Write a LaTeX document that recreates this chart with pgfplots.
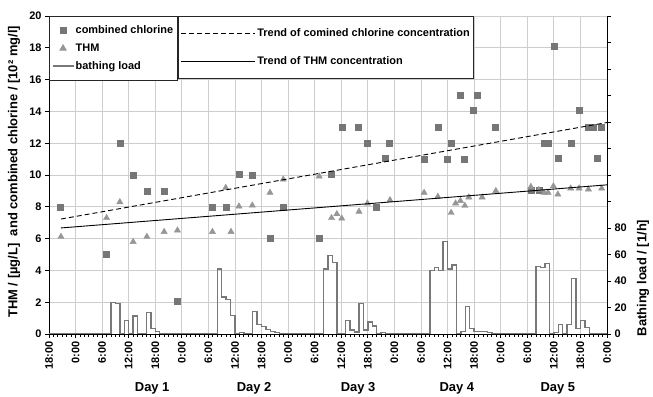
\documentclass[border=0pt]{standalone}
\usepackage{pgfplots}
\pgfplotsset{compat=1.18}
\usepackage{fontspec}
\setmainfont{Liberation Sans}
\definecolor{sq}{RGB}{118,118,118}
\definecolor{tri}{RGB}{150,150,150}
\definecolor{bath}{RGB}{120,120,120}
\definecolor{gridc}{RGB}{205,205,205}
\begin{document}
\begin{tikzpicture}
\pgfplotsset{
  every axis/.append style={font=\bfseries\fontsize{11}{13}\selectfont},
  /pgf/number format/assume math mode=true,
  base/.style={at={(0,0)}, anchor=south west, scale only axis,
    width=558bp, height=318bp, xmin=0, xmax=126},
}
\begin{axis}[base,
  ymin=0, ymax=20, clip=false,
  axis x line*=bottom, axis y line*=left,
  xtick={0,6,...,126},
  xticklabels={18:00,0:00,6:00,12:00,18:00,0:00,6:00,12:00,18:00,0:00,6:00,12:00,18:00,0:00,6:00,12:00,18:00,0:00,6:00,12:00,18:00,0:00},
  x tick label style={rotate=90, anchor=east},
  minor x tick num=5,
  ytick={0,2,...,20},
  tick align=outside,
  major tick length=4bp, minor tick length=2.5bp,
  tick style={black, line width=0.8bp},
  xmajorgrids, ymajorgrids,
  major grid style={gridc, line width=0.9bp},
  axis line style={black, line width=0.9bp},
  ylabel={THM / [µg/L]\ \ and combined chlorine / [10² mg/l]},
  ylabel style={at={(axis description cs:-0.0627,0.51)}, anchor=center, font=\bfseries\fontsize{13}{15}\selectfont},
  legend image code/.code={\draw[mark repeat=2,mark phase=2,#1] plot coordinates {(0bp,0bp) (10.5bp,0bp) (21bp,0bp)};},
  legend style={at={(0,1)}, anchor=north west, draw=black!85, line width=0.8bp, fill=white,
    inner xsep=2.5bp, inner ysep=8bp, row sep=5.5bp, nodes={inner sep=1.5bp},
    font=\bfseries\fontsize{11}{13}\selectfont},
  legend cell align=left,
]
\addplot[only marks, mark=square*, mark size=3bp, color=sq] coordinates {
(2.6,8.0) (13.0,5.0) (16.0,12.0) (19.0,10.0) (22.1,9.0) (26.0,9.0) (29.0,2.05)
(36.9,8.0) (39.9,8.0) (42.9,10.05) (45.9,10.0) (49.9,6.0) (52.8,8.0) (61.0,6.0)
(63.8,10.05) (66.1,13.0) (69.9,13.0) (71.8,12.0) (73.8,7.95) (75.9,11.05) (76.8,12.0)
(84.7,11.0) (87.8,13.0) (89.9,11.0) (90.8,12.0) (92.9,15.0) (93.8,11.0) (95.7,14.05)
(96.8,15.0) (100.7,13.0) (108.8,9.05) (110.6,9.05) (111.8,12.0) (112.7,12.0) (114.0,18.1)
(114.9,11.05) (117.9,12.0) (119.7,14.05) (121.8,13.0) (122.8,13.0) (123.7,11.05) (124.8,13.0)
};
\addlegendentry{combined chlorine}
\addplot[only marks, mark=triangle*, mark size=3.6bp, color=tri] coordinates {
(2.7,6.12) (13.0,7.3) (16.0,8.3) (19.0,5.8) (22.1,6.12) (26.0,6.43) (29.0,6.52)
(36.9,6.43) (39.9,9.2) (41.1,6.43) (42.9,8.03) (45.9,8.09) (49.9,8.89) (52.9,9.73)
(61.0,9.92) (63.8,7.3) (65.0,7.55) (66.1,7.27) (70.0,7.7) (71.9,8.22) (77.0,8.43)
(84.7,8.89) (87.8,8.64) (90.8,7.63) (91.8,8.22) (92.9,8.38) (93.9,8.07) (94.8,8.6)
(97.8,8.6) (100.9,9.0) (108.8,9.26) (110.6,9.06) (111.8,8.89) (112.7,8.89) (113.9,9.3)
(114.9,8.78) (117.8,9.16) (119.7,9.16) (121.8,9.1) (124.8,9.16)
};
\addlegendentry{THM}
\addlegendimage{bath, line width=1.3bp}
\addlegendentry{bathing load}
\node[font=\bfseries\fontsize{13}{15}\selectfont, yshift=-54bp] at (axis cs:23.3,0) {Day 1};
\node[font=\bfseries\fontsize{13}{15}\selectfont, yshift=-54bp] at (axis cs:46.3,0) {Day 2};
\node[font=\bfseries\fontsize{13}{15}\selectfont, yshift=-54bp] at (axis cs:69.8,0) {Day 3};
\node[font=\bfseries\fontsize{13}{15}\selectfont, yshift=-54bp] at (axis cs:92.1,0) {Day 4};
\node[font=\bfseries\fontsize{13}{15}\selectfont, yshift=-54bp] at (axis cs:114.9,0) {Day 5};
\end{axis}
\begin{axis}[base,
  ymin=0, ymax=240,
  axis x line=none, axis y line*=right,
  ytick={0,20,...,240}, yticklabels={0,20,40,60,80,,,,,,,,},
  tick align=outside, major tick length=4bp,
  tick style={black, line width=0.8bp},
  axis line style={black, line width=0.9bp},
  ylabel={Bathing load / [1/h]},
  ylabel style={at={(axis description cs:1.0645,0.176)}, anchor=center, font=\bfseries\fontsize{13}{15}\selectfont},
]
\addplot[const plot, bath, line width=1.3bp] coordinates {
(0,0) (14,24) (15,23) (16,0) (17,10) (18,0) (19,13.5) (20,0) (22,16) (23,4) (24,2) (25,0)
(38,49) (39,28) (40,26) (41,14) (42,0) (43,1) (44,0) (46,17) (47,7) (48,5.5) (49,3.5) (50,2) (51,1) (52,0)
(62,49) (63,59) (64,54) (65,0) (67,10) (68,3) (69,1.5) (70,23) (71,3) (72,9) (73,6) (74,0) (75,1) (76,0)
(86,48) (87,50) (88,48) (89,70) (90,49) (91,52) (92,0) (93,2) (94,21) (95,4) (96,2) (99,1) (100,0)
(110,51) (111,50) (112,53) (113,0) (114,1) (115,7) (116,0) (117,7) (118,42) (119,4) (120,10) (121,5) (122,0) (126,0)
};
\end{axis}
\begin{axis}[base,
  ymin=0, ymax=20, hide axis,
  legend image code/.code={\draw[#1] (0bp,0bp) -- (65bp,0bp); \path (0bp,0bp) -- (74bp,0bp);},
  legend style={at={(0.2312,1)}, anchor=north west, draw=black!85, line width=0.8bp, fill=white,
    inner xsep=2.5bp, inner ysep=11bp, row sep=15bp, nodes={inner sep=1.5bp},
    font=\bfseries\fontsize{11}{13}\selectfont},
  legend cell align=left,
]
\addplot[black, line width=0.9bp, dash pattern=on 5bp off 3bp] coordinates {(2.7,7.23) (126,13.3)};
\addlegendentry{Trend of comined chlorine concentration}
\addplot[black, line width=0.9bp] coordinates {(2.7,6.67) (126,9.38)};
\addlegendentry{Trend of THM concentration}
\end{axis}
\pgfresetboundingbox
\path[use as bounding box] (-49bp,-63bp) rectangle (604bp,334bp);
\end{tikzpicture}
\end{document}
